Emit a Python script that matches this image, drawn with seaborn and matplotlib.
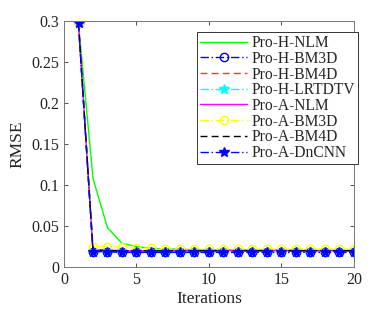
import matplotlib
matplotlib.use("Agg")
import matplotlib.pyplot as plt
import seaborn as sns
import pandas as pd

iterations = list(range(1, 21))
pro_h_nlm = [0.297, 0.108, 0.048, 0.029, 0.025, 0.023, 0.022, 0.022, 0.021, 0.021,
             0.021, 0.021, 0.021, 0.021, 0.021, 0.021, 0.021, 0.021, 0.021, 0.021]
pro_h_bm3d = [0.297, 0.019, 0.019, 0.018, 0.018, 0.018, 0.018, 0.018, 0.018, 0.018,
              0.018, 0.018, 0.018, 0.018, 0.018, 0.018, 0.018, 0.018, 0.018, 0.018]
pro_h_bm4d = [0.297, 0.021, 0.021, 0.020, 0.020, 0.020, 0.020, 0.020, 0.020, 0.020,
              0.020, 0.020, 0.020, 0.020, 0.020, 0.020, 0.020, 0.020, 0.020, 0.020]
pro_h_lrtdtv = [0.297, 0.019, 0.019, 0.019, 0.019, 0.019, 0.019, 0.019, 0.019, 0.019,
                0.019, 0.019, 0.019, 0.019, 0.019, 0.019, 0.019, 0.019, 0.019, 0.019]
pro_a_nlm = [0.297, 0.021, 0.020, 0.020, 0.020, 0.020, 0.020, 0.020, 0.020, 0.020,
             0.020, 0.020, 0.020, 0.020, 0.020, 0.020, 0.020, 0.020, 0.020, 0.020]
pro_a_bm3d = [0.297, 0.025, 0.025, 0.024, 0.023, 0.023, 0.022, 0.022, 0.022, 0.022,
              0.022, 0.022, 0.022, 0.022, 0.022, 0.022, 0.022, 0.022, 0.022, 0.022]
pro_a_bm4d = [0.297, 0.021, 0.020, 0.020, 0.020, 0.020, 0.020, 0.020, 0.020, 0.020,
              0.020, 0.020, 0.020, 0.020, 0.020, 0.020, 0.020, 0.020, 0.020, 0.020]
pro_a_dncnn = [0.297, 0.019, 0.019, 0.018, 0.018, 0.018, 0.018, 0.018, 0.018, 0.018,
               0.018, 0.018, 0.018, 0.018, 0.018, 0.018, 0.018, 0.018, 0.018, 0.018]

series = [
    ("Pro-H-NLM", pro_h_nlm, "#00ff00", "-", None),
    ("Pro-H-BM3D", pro_h_bm3d, "#0000ff", (0, (6, 2, 1, 2)), "o"),
    ("Pro-H-BM4D", pro_h_bm4d, "#ff3333", (0, (5, 3)), None),
    ("Pro-H-LRTDTV", pro_h_lrtdtv, "#00ffff", (0, (6, 2, 1, 2)), "*"),
    ("Pro-A-NLM", pro_a_nlm, "#ff00ff", "-", None),
    ("Pro-A-BM3D", pro_a_bm3d, "#ffff00", (0, (6, 2, 1, 2)), "o"),
    ("Pro-A-BM4D", pro_a_bm4d, "#000000", (0, (5, 3)), None),
    ("Pro-A-DnCNN", pro_a_dncnn, "#0000ff", (0, (6, 2, 1, 2)), "*"),
]

sns.set_style("ticks")
plt.rcParams['font.family'] = ['Liberation Serif', 'DejaVu Serif']

fig = plt.figure(figsize=(3.81, 3.18), dpi=100)
ax = fig.add_axes([0.168, 0.160, 0.761, 0.774])

for name, vals, color, ls, marker in series:
    df = pd.DataFrame({"Iterations": iterations, "RMSE": vals})
    sns.lineplot(data=df, x="Iterations", y="RMSE", ax=ax, color=color,
                 linestyle=ls, marker=marker, markersize=6 if marker == "o" else 7,
                 markerfacecolor="none" if marker == "o" else color,
                 markeredgecolor=color, markeredgewidth=1.0,
                 linewidth=1.0, label=name)

ax.set_xlim(0, 20)
ax.set_ylim(0, 0.3)
ax.set_xticks([0, 5, 10, 15, 20])
ax.set_yticks([0, 0.05, 0.1, 0.15, 0.2, 0.25, 0.3])
ax.set_yticklabels(["0", "0.05", "0.1", "0.15", "0.2", "0.25", "0.3"])
ax.tick_params(direction="in", length=3, width=0.6, colors="#333333",
               labelsize=11.5, top=True, right=True, labelcolor="#222222")
for sp in ax.spines.values():
    sp.set_visible(True)
    sp.set_color("#777777")
    sp.set_linewidth(0.7)
ax.set_xlabel("Iterations", fontsize=12.5, color="#222222", labelpad=2)
ax.set_ylabel("RMSE", fontsize=12.5, color="#222222", labelpad=4)

leg = ax.legend(loc="upper right", bbox_to_anchor=(1.015, 0.955), fontsize=11.2,
                frameon=True, fancybox=False, edgecolor="#333333", numpoints=1,
                handlelength=3.0, handletextpad=0.3, borderpad=0.2,
                labelspacing=-0.02, borderaxespad=0.0)
leg.get_frame().set_linewidth(0.7)
leg.get_frame().set_facecolor("white")
leg.get_frame().set_alpha(1)

fig.savefig("out.png", dpi=100)
